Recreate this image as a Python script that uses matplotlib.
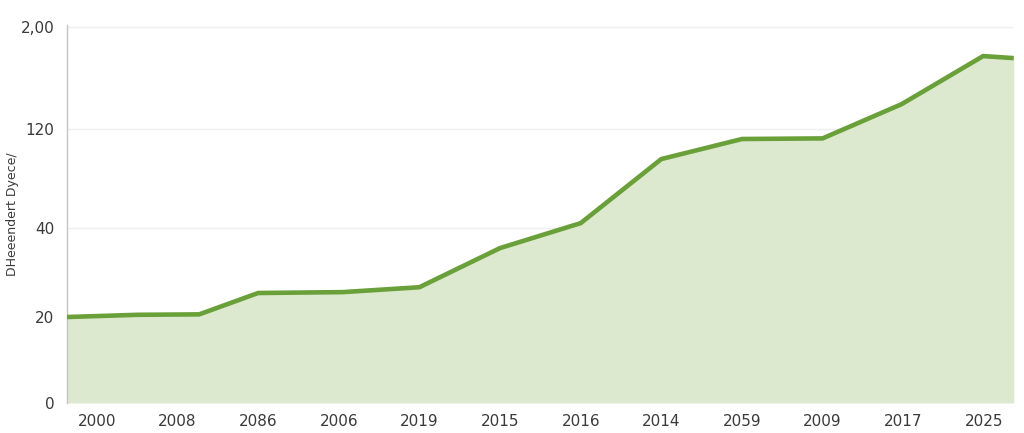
import numpy as np
import matplotlib
matplotlib.use("Agg")
import matplotlib.pyplot as plt

# Category tick labels along the x axis
categories = ["2000", "2008", "2086", "2006", "2019", "2015",
              "2016", "2014", "2059", "2009", "2017", "2025"]

# Series: x positions in category units, and values
series_x = [-0.37, 0.5, 1.27, 2.0, 3.05, 4.0, 5.0, 6.0, 7.0, 8.0, 9.0, 9.98, 10.99, 11.37]
series_y = [20.0, 20.5, 20.6, 25.4, 25.6, 26.7, 35.5, 44.0, 95.8, 112.0, 112.5, 139.6, 177.3, 175.7]

# Y tick values and their labels (non-uniform axis)
ytick_values = [0, 20, 40, 120, 200]
ytick_labels = ["0", "20", "40", "120", "2,00"]
ytick_pos = [0, 86, 175, 274, 376]  # visual spacing of the tick values

ylabel = "DHeeendert Dyece/"

tv = np.array(ytick_values, float)
tp = np.array(ytick_pos, float)


def fwd(v):
    v = np.asarray(v, float)
    out = np.interp(v, tv, tp)
    hi = v > tv[-1]
    s_hi = (tp[-1] - tp[-2]) / (tv[-1] - tv[-2])
    out = np.where(hi, tp[-1] + (v - tv[-1]) * s_hi, out)
    lo = v < tv[0]
    s_lo = (tp[1] - tp[0]) / (tv[1] - tv[0])
    out = np.where(lo, tp[0] + (v - tv[0]) * s_lo, out)
    return out


def inv(p):
    p = np.asarray(p, float)
    out = np.interp(p, tp, tv)
    hi = p > tp[-1]
    s_hi = (tv[-1] - tv[-2]) / (tp[-1] - tp[-2])
    out = np.where(hi, tv[-1] + (p - tp[-1]) * s_hi, out)
    lo = p < tp[0]
    s_lo = (tv[1] - tv[0]) / (tp[1] - tp[0])
    out = np.where(lo, tv[0] + (p - tp[0]) * s_lo, out)
    return out


fig = plt.figure(figsize=(10.24, 4.33), dpi=100)
ax = fig.add_axes([0.0654, 0.0693, 0.9246, 0.8727])
ax.set_yscale("function", functions=(fwd, inv))

line_color = "#6aa03a"
fill_color = "#dce9cf"

ax.fill_between(series_x, series_y, 0, color=fill_color, linewidth=0, zorder=1)
ax.plot(series_x, series_y, color=line_color, linewidth=3.3,
        solid_joinstyle="miter", solid_capstyle="butt", zorder=3)

ax.set_xlim(-0.37, 11.37)
ax.set_ylim(0, 201.6)

ax.set_yticks(ytick_values)
ax.set_yticklabels(ytick_labels)
ax.set_xticks(range(len(categories)))
ax.set_xticklabels(categories)

ax.grid(axis="y", color="#efefef", linewidth=1.0, zorder=0)
ax.set_axisbelow(True)

for s in ["top", "right", "bottom"]:
    ax.spines[s].set_visible(False)
ax.spines["left"].set_color("#c4c4c4")
ax.spines["left"].set_linewidth(1.0)

ax.tick_params(axis="both", length=0, labelsize=11, colors="#3a3a3a")
ax.tick_params(axis="y", pad=9)
ax.tick_params(axis="x", pad=8)

ax.set_ylabel(ylabel, fontsize=9, color="#3a3a3a")
ax.yaxis.set_label_coords(-0.051, 0.5)

fig.savefig("out.png", dpi=100)
